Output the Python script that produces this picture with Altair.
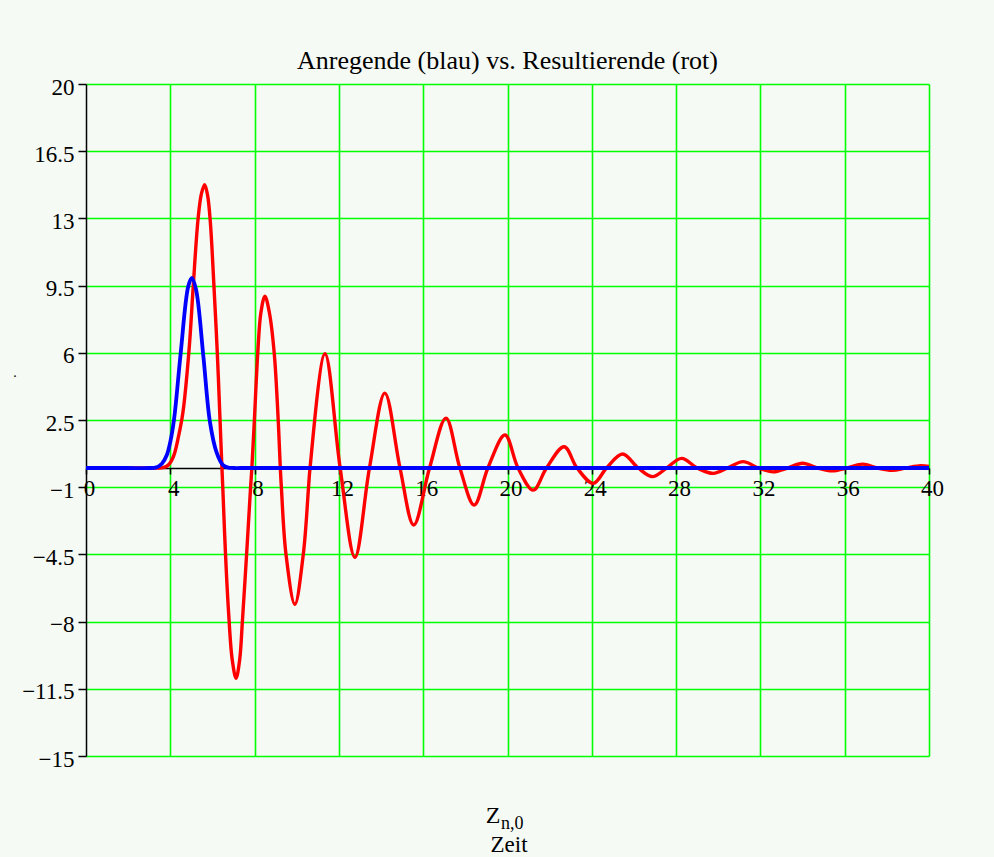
import altair as alt
import pandas as pd

# ---- data ----
red_x = [0, 1, 2, 3, 3.4, 3.65, 3.9, 4.15, 4.4, 4.6, 4.9, 5.09, 5.32, 5.48, 5.63, 5.77, 5.9,
         6.07, 6.23, 6.36, 6.45, 6.49, 6.62, 6.77, 6.94, 7.12, 7.29, 7.42, 7.62, 7.81, 7.87,
         7.99, 8.15, 8.3, 8.49, 8.7, 8.93, 9.12,
         9.22, 9.27, 9.49, 9.91, 10.31, 10.56, 10.63, 11.34, 12.06, 12.76, 13.45, 14.18,
         14.9, 15.55, 16.3, 17.08, 17.74, 18.42, 19.07, 19.88, 20.5, 21.22, 21.85, 22.69,
         23.3, 24.07, 24.7, 25.46, 26.2, 26.88, 27.55, 28.26, 29.0, 29.76, 30.45, 31.18,
         31.9, 32.6, 33.3, 34.0, 34.7, 35.4, 36.1, 36.86, 37.55, 38.25, 38.9, 39.6, 40]
red_y = [0, 0, 0, 0, 0, 0.02, 0.15, 0.6, 1.7, 2.9, 6.3, 9.5, 13, 14.3, 14.75, 14.2, 12.8,
         9.5, 6, 2.5, 0, -1, -4.5, -7.6, -10.0, -10.95, -10.0, -8, -4.5, -1, 0,
         2.5, 6, 8.1, 8.95, 8.1, 6, 2.5,
         0, -1, -4.5, -7.1, -4.5, -1, 0, 5.95, 0, -4.65, 0, 3.9,
         0, -2.97, 0, 2.6, 0, -1.93, 0, 1.72, 0, -1.15, 0, 1.11,
         0, -0.8, 0, 0.73, 0, -0.45, 0, 0.5, 0, -0.28, 0, 0.33,
         0, -0.2, 0, 0.25, 0, -0.15, 0, 0.2, 0, -0.12, 0, 0.12, 0.08]

blue_x = [0, 1, 2, 3, 3.3, 3.6, 3.83, 4.0, 4.18, 4.49, 4.85, 5.02, 5.22, 5.57, 5.88, 6.2, 6.5,
          6.75, 7.0, 7.5, 8, 10, 15, 20, 25, 30, 35, 40]
blue_y = [0, 0, 0, 0, 0.02, 0.22, 0.66, 1.36, 2.55, 5.95, 9.45, 9.9, 9.3, 5.8, 2.4, 0.8, 0.15,
          0.02, 0, 0, 0, 0, 0, 0, 0, 0, 0, 0]

x_ticks = [0, 4, 8, 12, 16, 20, 24, 28, 32, 36, 40]
y_ticks = [20, 16.5, 13, 9.5, 6, 2.5, -1, -4.5, -8, -11.5, -15]

title_text = "Anregende (blau) vs. Resultierende (rot)"
label_main = "Z"
label_sub = "n,0"
label_line2 = "Zeit"

# ---- styling ----
W, H = 843, 672
BG = "#f5faf5"
FONT = "Liberation Serif"
GREEN = "#00ff00"

red = pd.DataFrame({"t": red_x, "v": red_y})
blue = pd.DataFrame({"t": blue_x, "v": blue_y})

xscale = alt.Scale(domain=[0, 40], nice=False, zero=False)
yscale = alt.Scale(domain=[-15, 20], nice=False, zero=False)

# pixel offset so that the x axis crosses y = 0
x_axis_offset = -H * (0 - (-15)) / 35.0

xaxis = alt.Axis(
    values=x_ticks, labelExpr="format(datum.value, 'd')", title=None,
    grid=True,
    gridColor=alt.condition("datum.value == 0", alt.value("transparent"), alt.value(GREEN)),
    gridWidth=1.6, gridOpacity=1,
    domainColor="black", domainWidth=1.5,
    tickColor="black", tickWidth=1.5, tickSize=6,
    labelFont=FONT, labelFontSize=23, labelColor="black",
    labelPadding=3, labelOffset=3, labelFlush=False, labelOverlap=False,
    offset=x_axis_offset,
)
yaxis = alt.Axis(
    values=y_ticks, labelExpr="format(datum.value, '~g')", title=None,
    grid=True, gridColor=GREEN, gridWidth=1.6, gridOpacity=1,
    domainColor="black", domainWidth=1.5,
    tickColor="black", tickWidth=1.5, tickSize=8,
    labelFont=FONT, labelFontSize=23, labelColor="black",
    labelPadding=4, labelOffset=3, labelFlush=False, labelOverlap=False,
    labelBaseline="middle",
)

red_line = alt.Chart(red).mark_line(color="#ff0000", strokeWidth=3.4, interpolate="catmull-rom").encode(
    x=alt.X("t:Q", scale=xscale, axis=xaxis),
    y=alt.Y("v:Q", scale=yscale, axis=yaxis),
)
blue_line = alt.Chart(blue).mark_line(color="#0000ff", strokeWidth=3.8, interpolate="catmull-rom").encode(
    x=alt.X("t:Q", scale=xscale),
    y=alt.Y("v:Q", scale=yscale),
)

one = alt.Data(values=[{}])
z_txt = alt.Chart(one).mark_text(font=FONT, fontSize=24, align="center", baseline="alphabetic",
                                 color="black").encode(
    x=alt.value(407), y=alt.value(739), text=alt.value(label_main))
sub_txt = alt.Chart(one).mark_text(font=FONT, fontSize=18, align="left", baseline="alphabetic",
                                   color="black").encode(
    x=alt.value(415), y=alt.value(745), text=alt.value(label_sub))
zeit_txt = alt.Chart(one).mark_text(font=FONT, fontSize=23, align="center", baseline="alphabetic",
                                    color="black").encode(
    x=alt.value(423), y=alt.value(768), text=alt.value(label_line2))
dot_txt = alt.Chart(one).mark_text(font=FONT, fontSize=14, align="center", baseline="middle",
                                   color="black").encode(
    x=alt.value(-71), y=alt.value(289), text=alt.value("."))

chart = alt.layer(red_line, blue_line, z_txt, sub_txt, zeit_txt, dot_txt).properties(
    width=W, height=H,
    title=alt.TitleParams(title_text, font=FONT, fontSize=26, fontWeight="normal",
                          color="black", anchor="middle", offset=14, baseline="alphabetic",
                          frame="group", dy=33),
    autosize=alt.AutoSizeParams(type="none"),
    padding={"left": 86, "top": 84, "right": 65, "bottom": 101},
    background=BG,
).configure_view(stroke=None)

chart.save("out.html", embed_options={"renderer": "svg", "actions": False})
